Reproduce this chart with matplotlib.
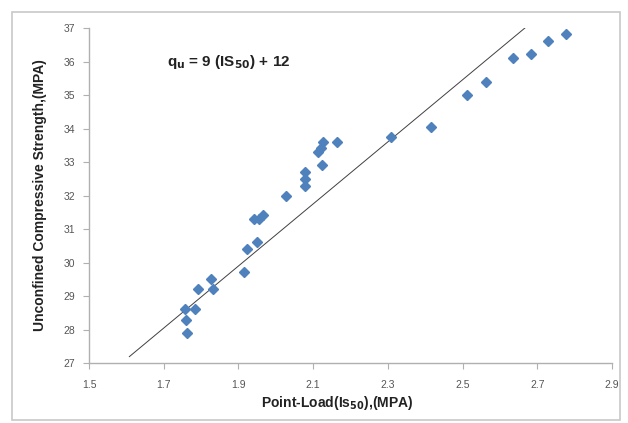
import matplotlib.pyplot as plt
from matplotlib.patches import Rectangle

# point-load index vs unconfined compressive strength
is50 = [1.762, 1.760, 1.757, 1.784, 1.793, 1.826, 1.831, 1.914, 1.922, 1.949,
        1.942, 1.954, 1.967, 2.027, 2.079, 2.079, 2.079, 2.123, 2.113, 2.121,
        2.127, 2.164, 2.309, 2.416, 2.511, 2.562, 2.636, 2.682, 2.729, 2.776]
ucs = [27.89, 28.28, 28.60, 28.60, 29.20, 29.50, 29.21, 29.71, 30.41, 30.62,
       31.29, 31.31, 31.43, 32.00, 32.28, 32.50, 32.70, 32.91, 33.31, 33.41,
       33.61, 33.61, 33.76, 34.04, 34.99, 35.39, 36.11, 36.22, 36.62, 36.82]

# trend line as drawn on the chart
fit_x = [1.608, 2.669]
fit_y = [27.19, 37.02]

x_ticks = [1.5, 1.7, 1.9, 2.1, 2.3, 2.5, 2.7, 2.9]
x_tick_labels = ['1.5', '1.7', '1.9', '2.1', '2.3', '2.5', '2.7', '2.9']
y_ticks = list(range(27, 38))

plt.rcParams['font.family'] = ['Liberation Sans', 'DejaVu Sans']

fig = plt.figure(figsize=(6.28, 4.23), dpi=100)
fig.patches.append(Rectangle((12 / 628, 3 / 423), 608 / 628, 408 / 423,
                             transform=fig.transFigure, fill=False,
                             edgecolor='#c8c8c8', linewidth=1.2))

ax = fig.add_axes([89 / 628, 1 - 363 / 423, (612 - 89) / 628, (363 - 28) / 423])
ax.plot(fit_x, fit_y, color='#404040', linewidth=0.7, zorder=2)
ax.plot(is50, ucs, linestyle='none', marker='D', markersize=5.5,
        color='#4f81bd', markeredgecolor='#4f81bd', zorder=3)

ax.set_xlim(1.5, 2.9)
ax.set_ylim(27, 37)
ax.set_xticks(x_ticks)
ax.set_xticklabels(x_tick_labels)
ax.set_yticks(y_ticks)

for side in ('top', 'right'):
    ax.spines[side].set_visible(False)
for side in ('left', 'bottom'):
    ax.spines[side].set_color('#b0b0b0')
    ax.spines[side].set_linewidth(1.0)
ax.tick_params(axis='both', direction='out', length=4, width=0.8,
               color='#b0b0b0', labelcolor='#555555', labelsize=7.5)
ax.tick_params(axis='x', pad=8)
ax.tick_params(axis='y', pad=6)

ax.set_ylabel('Unconfined Compressive Strength,(MPA)', fontsize=10,
              fontweight='bold', color='#222222', labelpad=12)
fig.text(337 / 628, 1 - 403 / 423, 'Point-Load(Is$_{\\mathbf{50}}$),(MPA)',
         ha='center', va='center', fontsize=10, fontweight='bold', color='#222222')

ax.text(1.71, 36.0, 'q$_{\\mathbf{u}}$ = 9 (IS$_{\\mathbf{50}}$) + 12',
        fontsize=11, fontweight='bold', color='#222222', va='center')

fig.savefig('out.png', dpi=100)
